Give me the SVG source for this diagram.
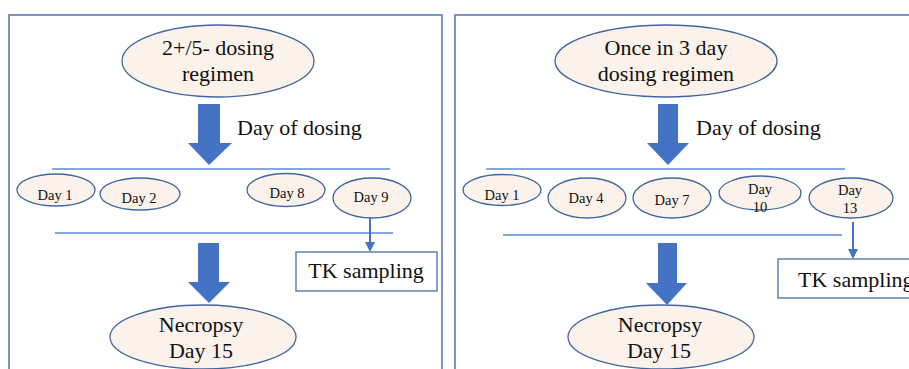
<svg xmlns="http://www.w3.org/2000/svg" width="909" height="369" viewBox="0 0 909 369">
<defs>
<style>
.frame{fill:none;stroke:#5573AA;stroke-width:1.5}
.ell{fill:#FBF2EC;stroke:#41669E;stroke-width:1.3}
.big{fill:#4472C4}
.line{stroke:#5B8BD0;stroke-width:1.3;fill:none}
.small{stroke:#4472C4;stroke-width:2;fill:none}
.box{fill:#fff;stroke:#4A6DA7;stroke-width:1.3}
.t22{font-size:22px}
.t15{font-size:14.5px}
</style>
<marker id="ah" markerWidth="10" markerHeight="10" refX="8" refY="5" orient="auto" markerUnits="userSpaceOnUse">
<path d="M0,0 L10,5 L0,10 Z" fill="#4472C4"/>
</marker>
</defs>
<rect width="909" height="369" fill="#fff"/>
<rect class="frame" x="9" y="15" width="433" height="370"/>
<rect class="frame" x="455" y="15" width="470" height="370"/>

<g id="connectors">
<path class="big" d="M198,104 H220 V143 H232 L209,165 L188,143 H198 Z"/>
<path class="big" d="M198,243 H219 V282 H230 L209,303 L188,282 H198 Z"/>
<path class="big" d="M658,104 H678 V143 H689 L668,165 L647,143 H658 Z"/>
<path class="big" d="M658,243 H677 V283 H687 L667,305 L646,283 H658 Z"/>
<line class="line" x1="52" y1="169" x2="390" y2="169"/>
<line class="line" x1="55" y1="233" x2="393" y2="233"/>
<line class="line" x1="486" y1="169" x2="845" y2="169"/>
<line class="line" x1="503" y1="235" x2="842" y2="235"/>
<line class="small" x1="370" y1="217" x2="370" y2="250" marker-end="url(#ah)"/>
<line class="small" x1="853" y1="222" x2="853" y2="257" marker-end="url(#ah)"/>
</g>

<g font-family="'Liberation Serif', Tinos, 'Times New Roman', serif" fill="#111" text-anchor="middle">
<g id="label-dosing-left"><text class="t22" x="237" y="135" text-anchor="start">Day of dosing</text></g>
<g id="label-dosing-right"><text class="t22" x="696" y="135" text-anchor="start">Day of dosing</text></g>

<g id="regimen-left">
<ellipse class="ell" cx="218" cy="61" rx="96" ry="36"/>
<text class="t22" x="218" y="55">2+/5- dosing</text>
<text class="t22" x="218" y="81">regimen</text>
</g>
<g id="regimen-right">
<ellipse class="ell" cx="666" cy="61" rx="111" ry="36"/>
<text class="t22" x="666" y="55">Once in 3 day</text>
<text class="t22" x="666" y="81">dosing regimen</text>
</g>

<g id="l-day1"><ellipse class="ell" cx="56" cy="190" rx="39" ry="16"/><text class="t15" x="55" y="200">Day 1</text></g>
<g id="l-day2"><ellipse class="ell" cx="140" cy="194" rx="40" ry="16"/><text class="t15" x="139" y="203">Day 2</text></g>
<g id="l-day8"><ellipse class="ell" cx="286" cy="190" rx="39" ry="16.5"/><text class="t15" x="287" y="198">Day 8</text></g>
<g id="l-day9"><ellipse class="ell" cx="372" cy="198" rx="39" ry="20"/><text class="t15" x="371" y="202">Day 9</text></g>

<g id="r-day1"><ellipse class="ell" cx="502" cy="190" rx="39" ry="15.5"/><text class="t15" x="502" y="200">Day 1</text></g>
<g id="r-day4"><ellipse class="ell" cx="587" cy="198" rx="39" ry="20"/><text class="t15" x="586" y="203">Day 4</text></g>
<g id="r-day7"><ellipse class="ell" cx="672" cy="198" rx="39" ry="20"/><text class="t15" x="672" y="205">Day 7</text></g>
<g id="r-day10"><ellipse class="ell" cx="760" cy="193" rx="41" ry="17"/><text class="t15" x="760" y="194">Day</text><text class="t15" x="760" y="212">10</text></g>
<g id="r-day13"><ellipse class="ell" cx="851" cy="198" rx="42" ry="20"/><text class="t15" x="850" y="195">Day</text><text class="t15" x="850" y="213">13</text></g>

<g id="tk-left"><rect class="box" x="296" y="252" width="141" height="39"/><text class="t22" x="366" y="278">TK sampling</text></g>
<g id="tk-right"><rect class="box" x="778" y="259" width="150" height="39"/><text class="t22" x="798" y="287" text-anchor="start">TK sampling</text></g>

<g id="necropsy-left">
<ellipse class="ell" cx="203" cy="337" rx="93" ry="32"/>
<text class="t22" x="201" y="332">Necropsy</text>
<text class="t22" x="201" y="358">Day 15</text>
</g>
<g id="necropsy-right">
<ellipse class="ell" cx="661" cy="337" rx="93" ry="32"/>
<text class="t22" x="660" y="332">Necropsy</text>
<text class="t22" x="659" y="358">Day 15</text>
</g>
</g>
</svg>
